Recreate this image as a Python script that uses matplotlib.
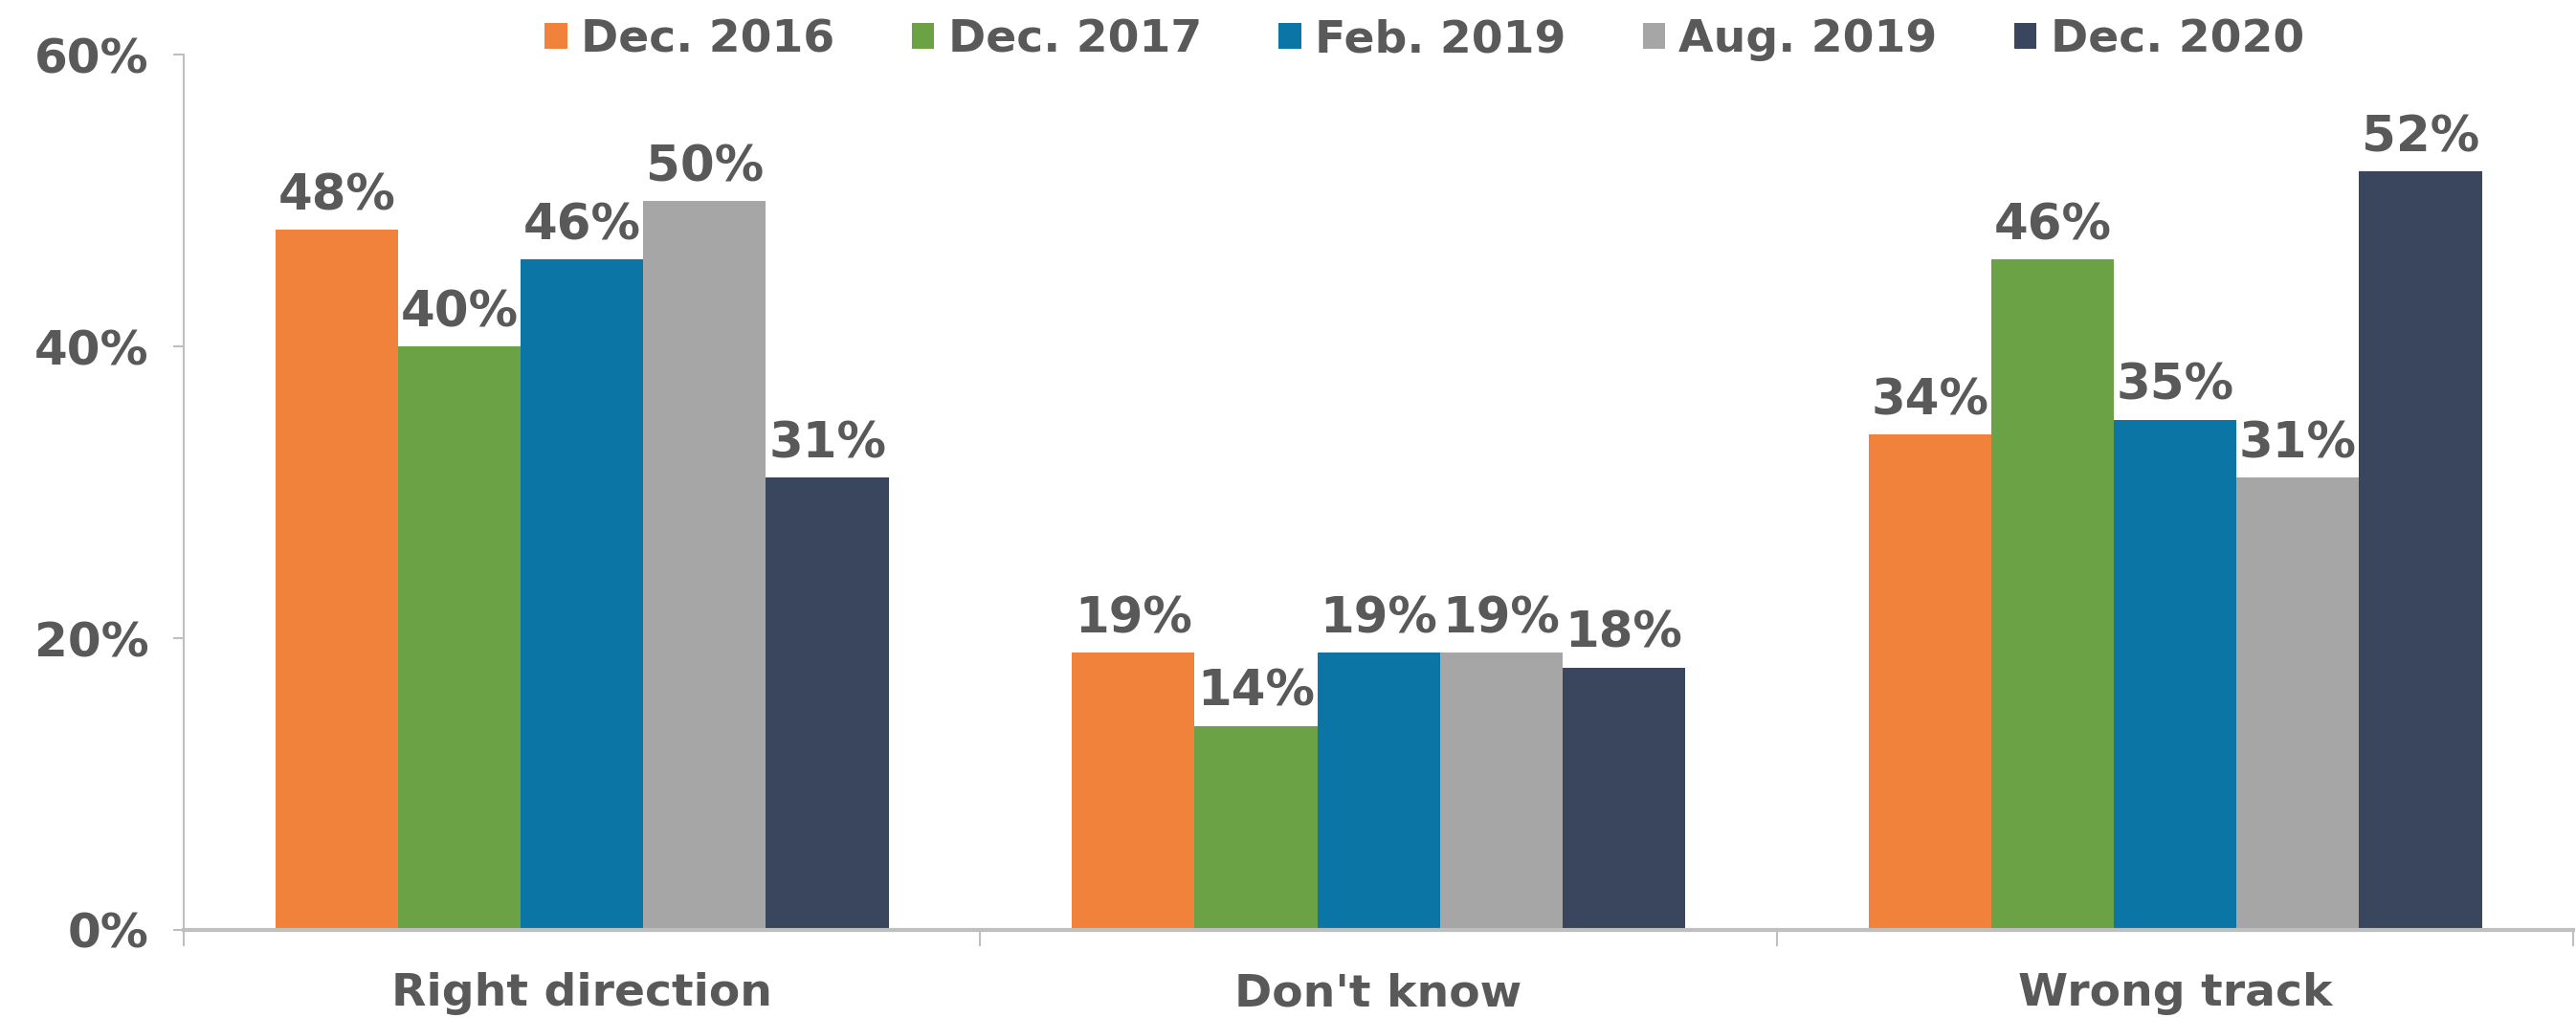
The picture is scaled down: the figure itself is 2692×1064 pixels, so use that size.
import numpy as np
import matplotlib
matplotlib.use("Agg")
import matplotlib.pyplot as plt

# data
categories = ["Right direction", "Don't know", "Wrong track"]
series = ["Dec. 2016", "Dec. 2017", "Feb. 2019", "Aug. 2019", "Dec. 2020"]
dec_2016 = [48, 19, 34]
dec_2017 = [40, 14, 46]
feb_2019 = [46, 19, 35]
aug_2019 = [50, 19, 31]
dec_2020 = [31, 18, 52]
values = [dec_2016, dec_2017, feb_2019, aug_2019, dec_2020]
colors = ["#F0823C", "#6AA245", "#0B75A5", "#A6A6A6", "#3A465E"]

txt = "#595959"
axc = "#BFBFBF"
plt.rcParams['font.family'] = ['DejaVu Sans']
plt.rcParams['font.weight'] = 'bold'

fig = plt.figure(figsize=(26.92, 10.64), dpi=100)
ax = fig.add_axes([0.0713, 0.0865, 0.9277, 0.8595])

x = np.arange(len(categories))
w = 0.154
for i, (name, vals, c) in enumerate(zip(series, values, colors)):
    pos = x + (i - 2) * w
    bars = ax.bar(pos, vals, width=w, color=c, label=name)
    for b, v in zip(bars, vals):
        ax.annotate(f"{v}%", (b.get_x() + b.get_width() / 2, v),
                    xytext=(0, 7), textcoords="offset points",
                    ha="center", va="bottom", fontsize=37,
                    fontweight="bold", color=txt)

ax.set_xlim(-0.5, 2.5)
ax.set_ylim(0, 60)
ax.set_yticks([0, 20, 40, 60])
ax.set_yticklabels(["0%", "20%", "40%", "60%"])
ax.set_xticks(x)
ax.set_xticklabels(categories)
ax.set_xticks([-0.5, 0.5, 1.5, 2.5], minor=True)
ax.tick_params(axis="x", which="major", length=0, pad=32, labelsize=34, labelcolor=txt)
ax.tick_params(axis="x", which="minor", length=12, width=1.5, color=axc, direction="out")
ax.tick_params(axis="y", length=8, width=1.5, color=axc, pad=18, labelsize=36, labelcolor=txt)

for s in ["top", "right"]:
    ax.spines[s].set_visible(False)
ax.spines["left"].set_color(axc)
ax.spines["left"].set_linewidth(1.5)
ax.spines["bottom"].set_color(axc)
ax.spines["bottom"].set_linewidth(3)

fig.legend(loc="upper center", bbox_to_anchor=(0.553, 1.022), ncol=5, frameon=False,
           fontsize=34, labelcolor=txt, handlelength=0.5, handleheight=0.5,
           handletextpad=0.3, columnspacing=1.7)

fig.savefig("out.png", dpi=100)
